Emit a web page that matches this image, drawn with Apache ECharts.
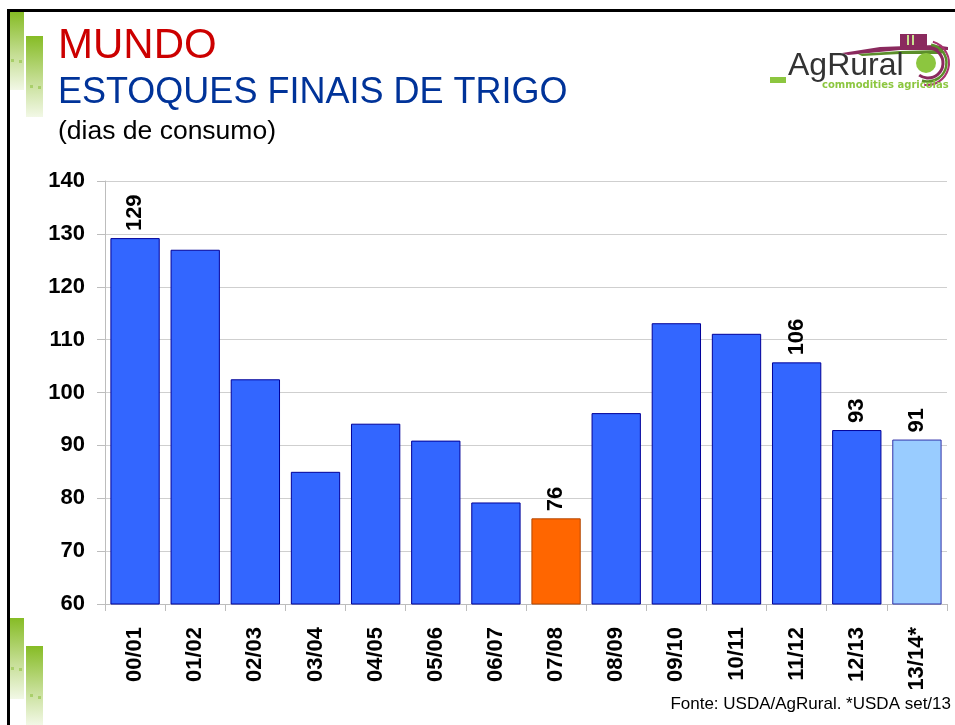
<!DOCTYPE html>
<html><head><meta charset="utf-8">
<script src="https://cdn.jsdelivr.net/npm/echarts@6/dist/echarts.min.js"></script>
<style>html,body{margin:0;padding:0;background:#fff}#c{width:955px;height:725px}</style>
</head><body><div id="c"></div>
<script>
const categories = ['00/01','01/02','02/03','03/04','04/05','05/06','06/07','07/08','08/09','09/10','10/11','11/12','12/13','13/14*'];
const values = [129.2, 127.0, 102.5, 85.0, 94.1, 90.9, 79.2, 76.2, 96.1, 113.1, 111.1, 105.7, 92.9, 91.1];
const labelText = ['129','','','','','','','76','','','','106','93','91'];
const yTicks = [60, 70, 80, 90, 100, 110, 120, 130, 140];

const FONT = '"Liberation Sans", Arial, sans-serif';
const blue = '#3366FF', blueBorder = '#000099';
const special = {
  '07/08': {color: '#FF6600', borderColor: '#B34700'},
  '13/14*': {color: '#99CCFF', borderColor: '#3333AA'}
};

const data = values.map((v, i) => {
  const st = special[categories[i]] || {color: blue, borderColor: blueBorder};
  return {
    value: v,
    itemStyle: {color: st.color, borderColor: st.borderColor, borderWidth: 1},
    label: {show: labelText[i] !== '', formatter: labelText[i]}
  };
});

function greenBar(x, y, w, h) {
  return {type: 'rect', shape: {x, y, width: w, height: h}, z: 10,
    style: {fill: new echarts.graphic.LinearGradient(0, 0, 0, 1, [
      {offset: 0, color: '#86BC25'}, {offset: 0.55, color: '#C5DE94'}, {offset: 1, color: '#F2F8E6'}])}};
}
function dot(x, y) {
  return {type: 'rect', shape: {x, y, width: 3, height: 3}, z: 11, style: {fill: '#A9CF6A'}};
}

const chart = echarts.init(document.getElementById('c'), null, {renderer: 'canvas'});
chart.setOption({
  animation: false,
  backgroundColor: '#fff',
  grid: {left: 105, right: 8, top: 181, bottom: 121, containLabel: false},
  xAxis: {
    type: 'category', data: categories, boundaryGap: true,
    axisLine: {show: true, lineStyle: {color: '#BDBDBD', width: 1}},
    axisTick: {show: true, length: 7, alignWithLabel: false, lineStyle: {color: '#BDBDBD'}},
    axisLabel: {rotate: 90, margin: 23, color: '#000', fontFamily: FONT, fontWeight: 'bold', fontSize: 22}
  },
  yAxis: {
    type: 'value', min: yTicks[0], max: yTicks[yTicks.length - 1], interval: 10,
    axisLine: {show: true, lineStyle: {color: '#BDBDBD', width: 1}},
    axisTick: {show: true, length: 8, lineStyle: {color: '#BDBDBD'}},
    splitLine: {show: true, lineStyle: {color: '#CFCFCF', width: 1}},
    axisLabel: {margin: 20, color: '#000', fontFamily: FONT, fontWeight: 'bold', fontSize: 22}
  },
  series: [{
    type: 'bar', data: data, barCategoryGap: '18%',
    label: {position: 'top', rotate: 90, align: 'left', verticalAlign: 'middle', distance: 7,
      color: '#000', fontFamily: FONT, fontWeight: 'bold', fontSize: 22}
  }],
  graphic: [
    // frame
    {type: 'rect', shape: {x: 7, y: 9, width: 960, height: 3}, style: {fill: '#000'}, z: 20},
    {type: 'rect', shape: {x: 7, y: 9, width: 3, height: 730}, style: {fill: '#000'}, z: 20},
    // green decorative bars
    greenBar(10, 12, 14, 78), greenBar(26, 36, 17, 81),
    dot(11, 59), dot(19, 60), dot(30, 85), dot(38, 86),
    greenBar(10, 618, 14, 81), greenBar(26, 646, 17, 79),
    dot(11, 667), dot(19, 668), dot(30, 694), dot(38, 696),
    // titles
    {type: 'text', left: 58, top: 25, z: 20, style: {text: 'MUNDO', fill: '#CC0000', font: '42px ' + FONT}},
    {type: 'text', left: 58, top: 75, z: 20, style: {text: 'ESTOQUES FINAIS DE TRIGO', fill: '#003399', font: '36px ' + FONT}},
    {type: 'text', left: 58, top: 118, z: 20, style: {text: '(dias de consumo)', fill: '#000', font: '26.5px ' + FONT}},
    {type: 'text', right: 4, top: 696, z: 20, style: {text: 'Fonte: USDA/AgRural. *USDA set/13', fill: '#000', font: '17px ' + FONT}},
    // logo
    {type: 'group', z: 20, children: [
      {type: 'rect', shape: {x: 900, y: 34, width: 27, height: 13}, style: {fill: '#8A2A5E'}},
      {type: 'rect', shape: {x: 907, y: 35, width: 2, height: 10}, style: {fill: '#C9E08F'}},
      {type: 'rect', shape: {x: 912, y: 35, width: 2, height: 10}, style: {fill: '#C9E08F'}},
      {type: 'polygon', shape: {points: [[842, 53], [880, 47], [935, 45], [948, 47], [948, 50], [900, 50], [848, 55]]}, style: {fill: '#8A2A5E'}},
      {type: 'polygon', shape: {points: [[858, 54], [900, 51], [940, 50], [946, 52], [940, 54], [900, 54], [862, 56]]}, style: {fill: '#5B8E2A'}},
      {type: 'circle', shape: {cx: 926, cy: 63, r: 10}, style: {fill: '#8CC63F'}},
      {type: 'arc', shape: {cx: 928, cy: 63, r: 15, startAngle: -1.5, endAngle: 2.2}, style: {stroke: '#8A2A5E', fill: null, lineWidth: 3}},
      {type: 'arc', shape: {cx: 928, cy: 63, r: 18.5, startAngle: -1.4, endAngle: 1.9}, style: {stroke: '#5B8E2A', fill: null, lineWidth: 2.5}},
      {type: 'arc', shape: {cx: 927, cy: 63, r: 22, startAngle: -1.3, endAngle: 1.7}, style: {stroke: '#A8336E', fill: null, lineWidth: 2}},
      {type: 'rect', shape: {x: 770, y: 77, width: 16, height: 6}, style: {fill: '#8CC63F'}},
      {type: 'text', x: 788, y: 50, style: {text: 'AgRural', fill: '#333333', font: '32px ' + FONT}},
      {type: 'text', x: 822, y: 80, style: {text: 'commodities agricolas', fill: '#8CC63F', font: 'bold 10px "DejaVu Sans", sans-serif'}}
    ]}
  ]
});
</script></body></html>
